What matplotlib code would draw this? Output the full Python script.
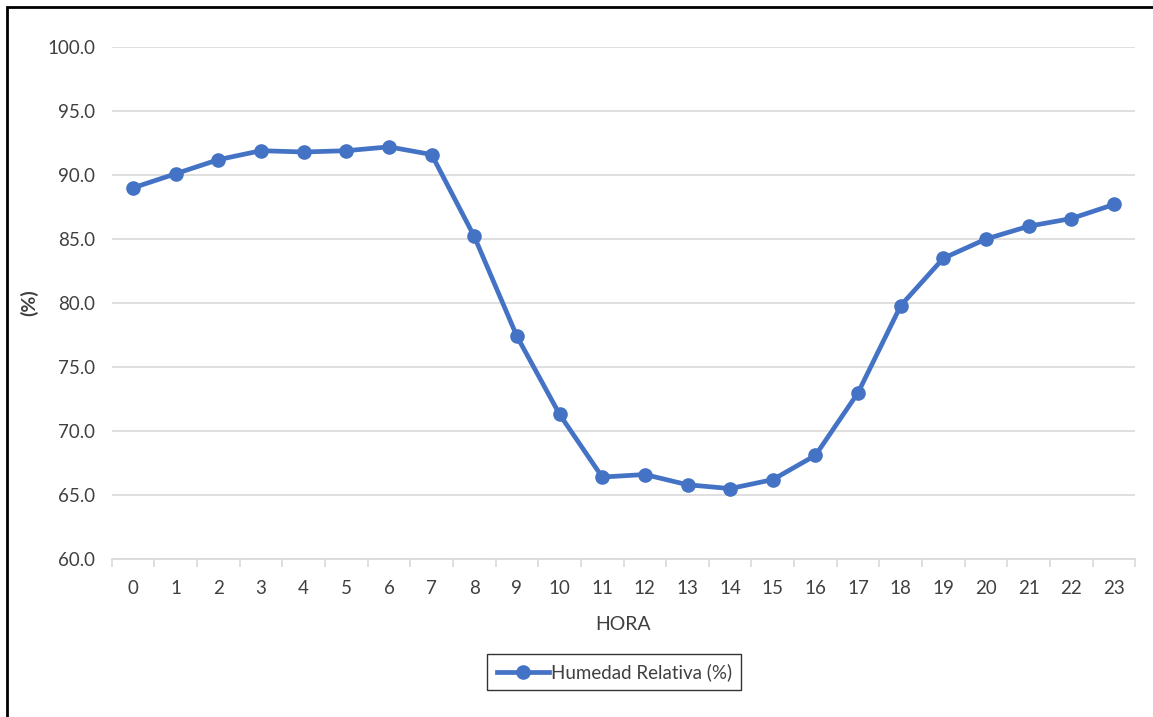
import matplotlib

matplotlib.use("Agg")

import matplotlib.pyplot as plt
from matplotlib.patches import Rectangle

hours = list(range(24))
humedad = [89.0, 90.1, 91.2, 91.9, 91.8, 91.9, 92.2, 91.6, 85.2, 77.4, 71.3, 66.4,
           66.6, 65.8, 65.5, 66.2, 68.1, 73.0, 79.8, 83.5, 85.0, 86.0, 86.6, 87.7]
y_ticks = [60, 65, 70, 75, 80, 85, 90, 95, 100]

plt.rcParams["font.family"] = ["Lato", "DejaVu Sans"]

fig = plt.figure(figsize=(11.53, 7.17), dpi=100)
ax = fig.add_axes([0.0969, 0.2204, 0.8878, 0.714])

ax.plot(hours, humedad, color="#4472C4", linewidth=3.4, marker="o", markersize=9.5,
        label="Humedad Relativa (%)")

ax.set_xlim(-0.5, 23.5)
ax.set_ylim(60, 100)
ax.set_yticks(y_ticks)
ax.set_yticklabels([f"{v:.1f}" for v in y_ticks])
ax.set_xticks(hours)
ax.set_xticks([h - 0.5 for h in hours] + [23.5], minor=True)
ax.tick_params(axis="x", which="major", length=0, pad=15, labelsize=13.5, colors="#404040")
ax.tick_params(axis="x", which="minor", length=6, color="#d9d9d9", width=1.2)
ax.tick_params(axis="y", length=0, pad=12, labelsize=13.5, colors="#404040")
ax.grid(axis="y", color="#d9d9d9", linewidth=1.2)
ax.set_axisbelow(True)
for side in ["top", "right", "left"]:
    ax.spines[side].set_visible(False)
ax.spines["bottom"].set_color("#d9d9d9")
ax.spines["bottom"].set_linewidth(1.2)

ax.set_xlabel("HORA", fontsize=14, color="#404040", labelpad=14)
ax.set_ylabel("(%)", fontsize=14, color="#404040", labelpad=6, fontweight="bold")

leg = ax.legend(loc="upper center", bbox_to_anchor=(0.491, -0.167), frameon=True,
                fancybox=False, edgecolor="#000000", fontsize=13.5, handlelength=2.8,
                handletextpad=0.1, borderpad=0.5)
leg.get_frame().set_linewidth(1.0)
for t in leg.get_texts():
    t.set_color("#404040")

# outer chart border
fig.patches.append(Rectangle((7 / 1153, -0.01), 1.1, 1 - 7 / 717 + 0.01,
                             transform=fig.transFigure, fill=False,
                             edgecolor="#000000", linewidth=2.0))

fig.savefig("out.png", dpi=100)
